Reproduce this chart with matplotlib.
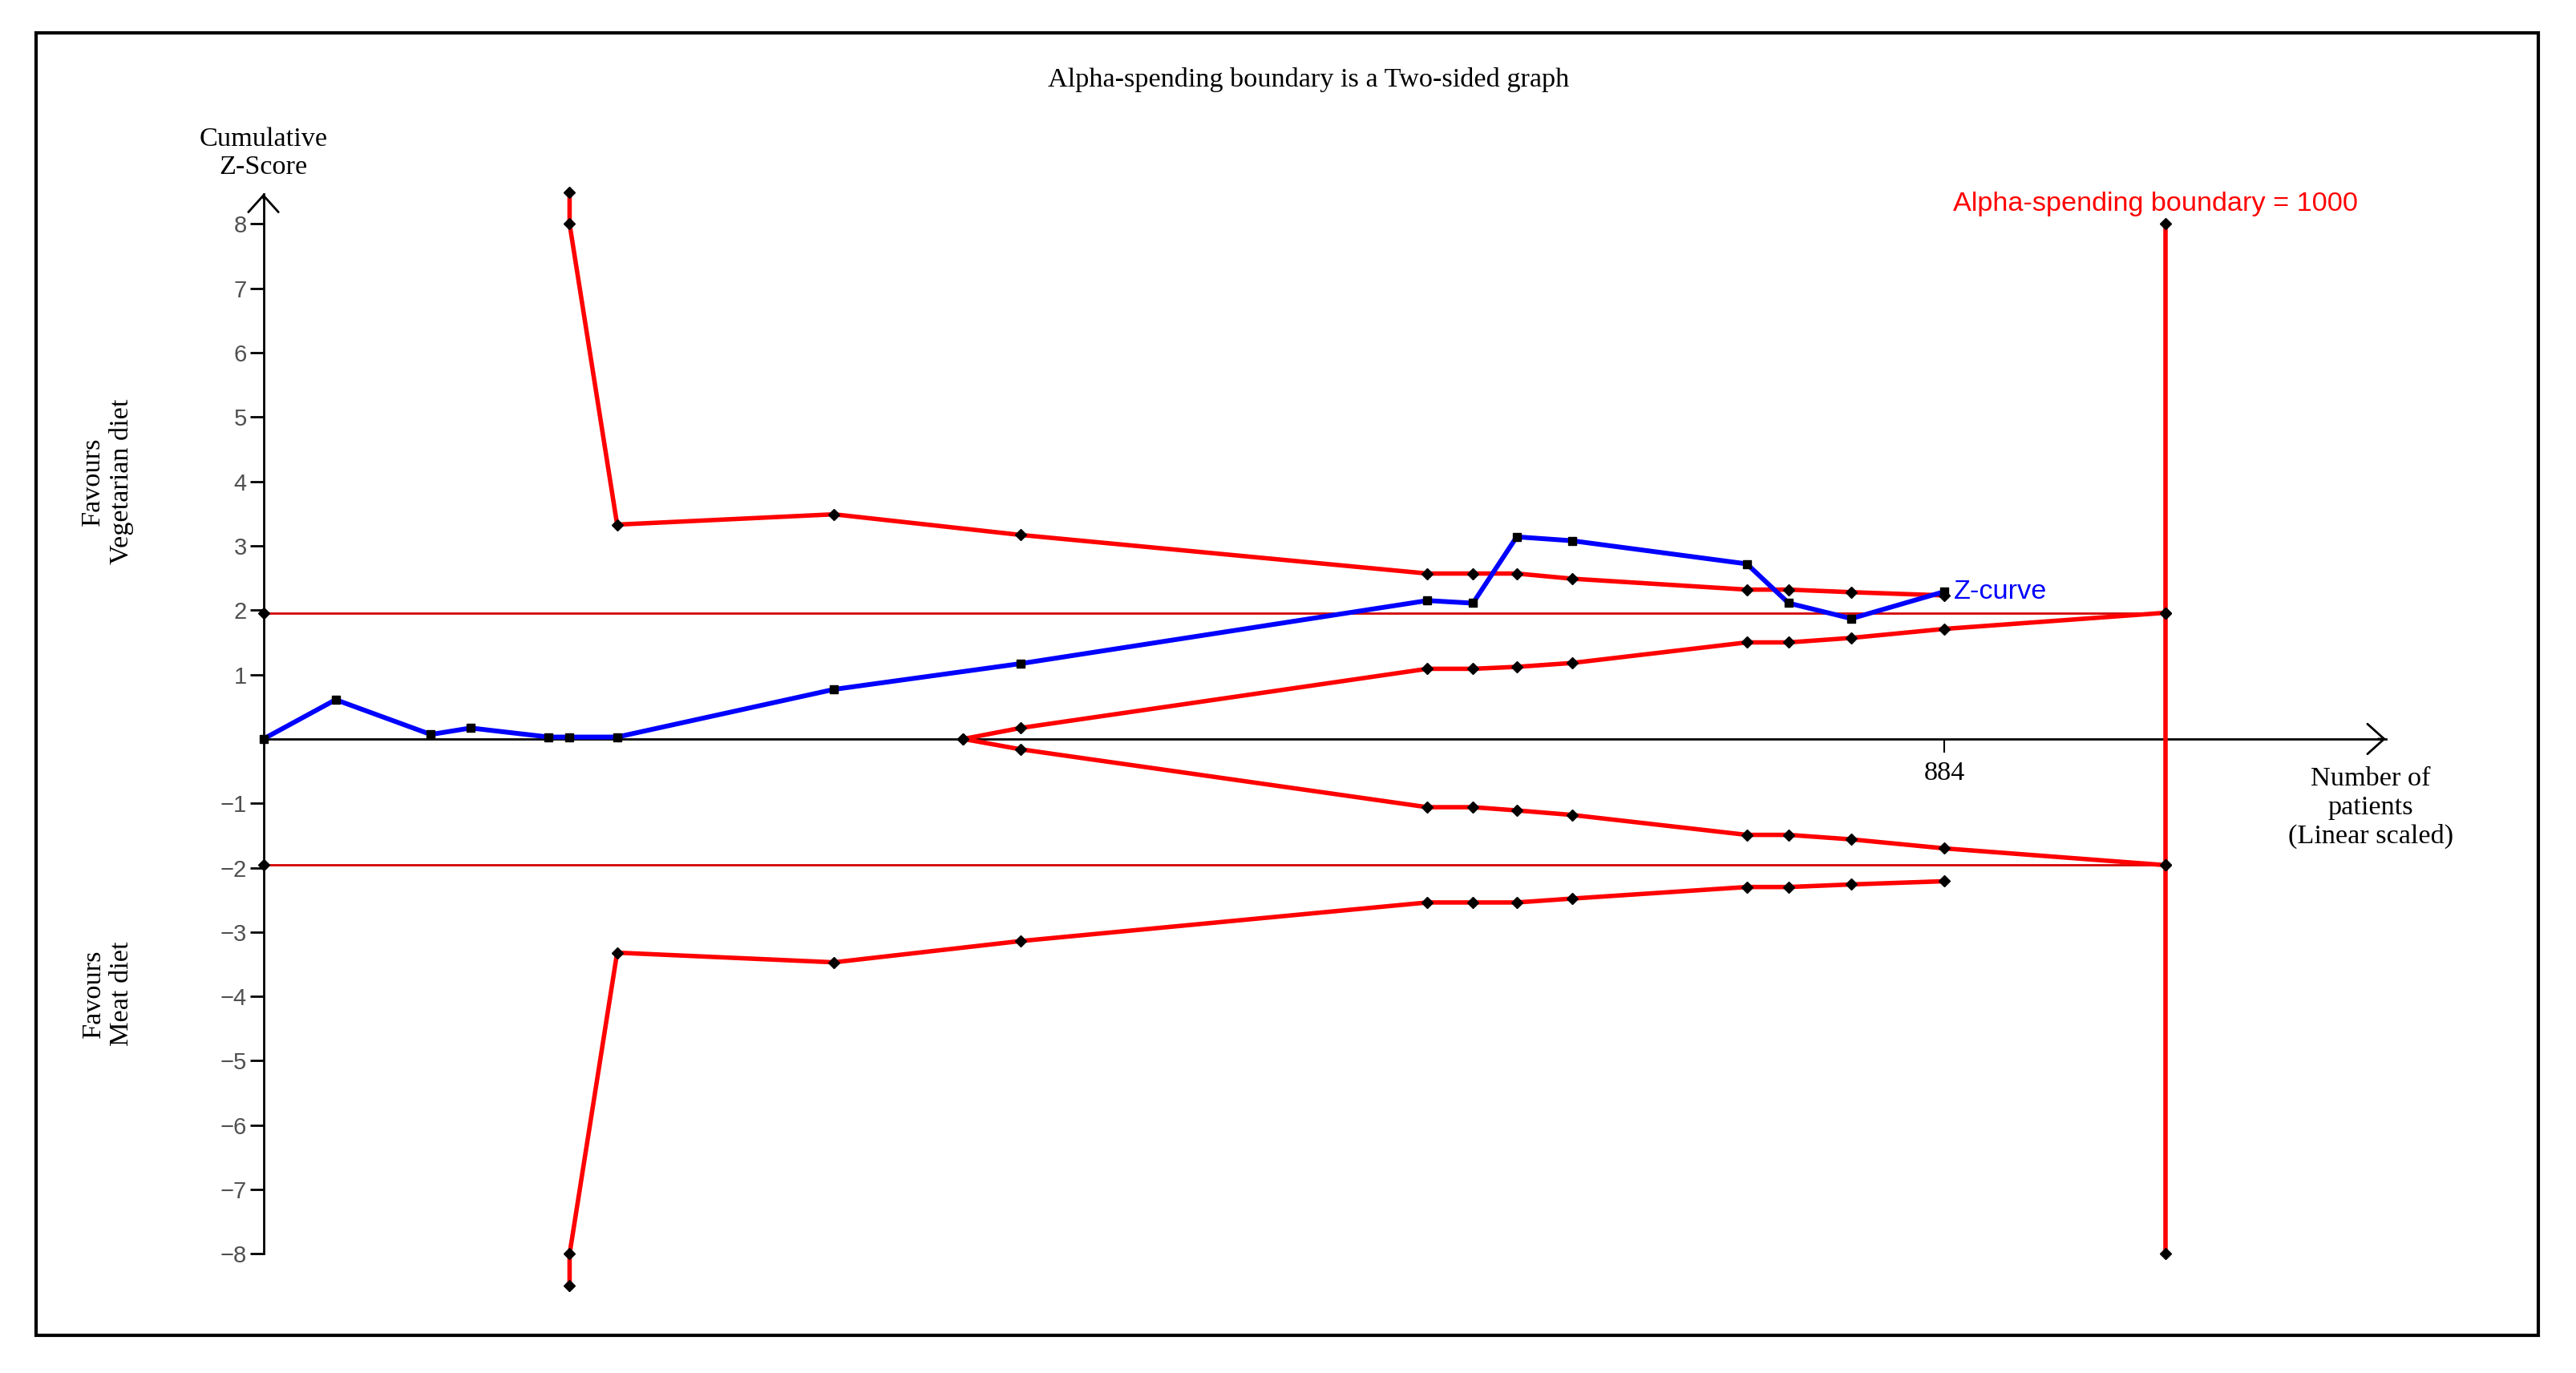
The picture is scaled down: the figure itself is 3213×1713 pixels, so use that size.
import matplotlib
matplotlib.use("Agg")
import matplotlib.pyplot as plt
from matplotlib.patches import Rectangle

# ---------------- data ----------------
z_patients = [0, 38, 88, 109, 150, 161, 186, 300, 398, 612, 636, 659, 688, 780, 802, 835, 884]
z_scores = [0, 0.61, 0.07, 0.17, 0.03, 0.03, 0.03, 0.77, 1.17, 2.15, 2.11, 3.14, 3.08, 2.72, 2.11, 1.87, 2.29]

bound_patients = [161, 161, 186, 300, 398, 612, 636, 659, 688, 780, 802, 835, 884]
upper_bound = [8.49, 8.0, 3.33, 3.49, 3.17, 2.57, 2.57, 2.57, 2.49, 2.32, 2.32, 2.28, 2.23]
lower_bound = [-8.49, -8.0, -3.32, -3.47, -3.14, -2.54, -2.54, -2.54, -2.48, -2.30, -2.30, -2.26, -2.21]

futility_patients = [368, 398, 612, 636, 659, 688, 780, 802, 835, 884, 1000]
futility_upper = [0, 0.17, 1.09, 1.09, 1.12, 1.18, 1.50, 1.50, 1.57, 1.71, 1.96]
futility_lower = [0, -0.16, -1.06, -1.06, -1.11, -1.18, -1.49, -1.49, -1.56, -1.70, -1.96]

conv_patients = [0, 1000]
conv_z = 1.96

ris = 1000
ris_marks = [8, 1.96, -1.96, -8]

y_ticks = [-8, -7, -6, -5, -4, -3, -2, -1, 1, 2, 3, 4, 5, 6, 7, 8]
x_ticks = [884]

# ---------------- style ----------------
SERIF = ["Liberation Serif", "DejaVu Serif"]
SANS = ["Liberation Sans", "DejaVu Sans"]
NARROW = ["Liberation Sans Narrow", "Liberation Sans", "DejaVu Sans"]
RED = "#ff0000"
DARKRED = "#d40000"
BLUE = "#0000ff"
FS = 24.7

fig = plt.figure(figsize=(32.13, 17.13), dpi=100)
ax = fig.add_axes([0, 0, 1, 1])
ax.set_xlim(-138.5, 1216.0)
ax.set_ylim(-9.85, 11.48)
ax.patch.set_alpha(0)

for s in ["top", "right"]:
    ax.spines[s].set_visible(False)
ax.spines["left"].set_position(("data", 0))
ax.spines["bottom"].set_position(("data", 0))
ax.spines["left"].set_bounds(-8, 8.47)
ax.spines["bottom"].set_bounds(0, 1116)
ax.spines["left"].set_linewidth(2)
ax.spines["bottom"].set_linewidth(2)

ax.set_yticks(y_ticks)
ax.set_yticklabels([str(t).replace("-", "\u2212") for t in y_ticks])
ax.set_xticks(x_ticks)
ax.set_xticklabels([str(t) for t in x_ticks])
ax.tick_params(axis="y", direction="out", length=12, width=2, pad=3,
               labelsize=21, labelcolor="#505050")
ax.tick_params(axis="x", direction="out", length=12, width=1.5, pad=8,
               labelsize=FS)
for lab in ax.get_yticklabels():
    lab.set_family(NARROW)
for lab in ax.get_xticklabels():
    lab.set_family(SERIF)

# axis arrow heads (open chevrons at the ends of the axes)
arrow_kw = dict(arrowstyle="->,head_length=0.5,head_width=0.45",
                lw=2, color="black", mutation_scale=30, shrinkA=0, shrinkB=0)
ax.annotate("", xy=(0, 8.47), xytext=(0, 8.40), arrowprops=arrow_kw)
ax.annotate("", xy=(1116, 0), xytext=(1112, 0), arrowprops=arrow_kw)

# conventional boundaries
for sgn in (1, -1):
    ax.plot(conv_patients, [sgn * conv_z] * 2, color=DARKRED, lw=2, zorder=2)
    ax.plot([conv_patients[0]], [sgn * conv_z], ls="none", marker="D",
            ms=7, color="black", zorder=6)

# required information size line
ax.plot([ris] * len(ris_marks), ris_marks, color=RED, lw=4, zorder=3,
        marker="D", ms=7, mfc="black", mec="black")

# alpha spending boundaries
mk = dict(color=RED, lw=4, zorder=3, marker="D", ms=7, mfc="black", mec="black")
ax.plot(bound_patients, upper_bound, **mk)
ax.plot(bound_patients, lower_bound, **mk)
ax.plot(futility_patients, futility_upper, **mk)
ax.plot(futility_patients, futility_lower, **mk)

# Z-curve
ax.plot(z_patients, z_scores, color=BLUE, lw=4.3, zorder=4,
        marker="s", ms=7, mfc="black", mec="black")

# texts
ax.text(z_patients[-1] + 5, z_scores[-1], "Z-curve", color=BLUE, fontsize=FS,
        family=SANS, ha="left", va="center")
ax.text(ris - 5, 8.31, "Alpha-spending boundary = 1000", color=RED, fontsize=FS,
        family=SANS, ha="center", va="center")
ax.text(0, 9.1, "Cumulative\nZ-Score", fontsize=FS, family=SERIF,
        ha="center", va="center", linespacing=1.2)
ax.text(1108, -1.07, "Number of\npatients\n(Linear scaled)", fontsize=FS,
        family=SERIF, ha="center", va="center", linespacing=1.22)
ax.text(-82, 4.0, "Favours\nVegetarian diet", fontsize=FS, family=SERIF,
        ha="center", va="center", rotation=90, linespacing=1.2)
ax.text(-82, -3.96, "Favours\nMeat diet", fontsize=FS, family=SERIF,
        ha="center", va="center", rotation=90, linespacing=1.2)

fig.text(0.508, 0.942, "Alpha-spending boundary is a Two-sided graph",
         fontsize=FS, family=SERIF, ha="center", va="center")

# outer frame
fig.patches.append(Rectangle((0.014, 0.0274), 0.9714, 0.9486,
                             transform=fig.transFigure, fill=False,
                             edgecolor="black", lw=3))

fig.savefig("out.png", dpi=100, facecolor="white")
